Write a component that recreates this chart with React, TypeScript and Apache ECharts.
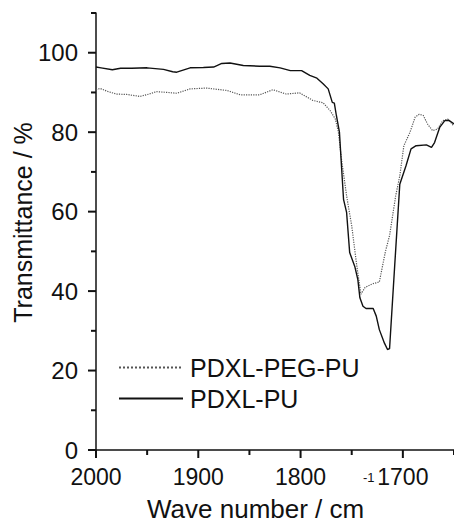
import React, { useEffect, useRef } from "react";
import * as echarts from "echarts";

const seriesNames = ["PDXL-PEG-PU", "PDXL-PU"];

const xMajorTicks = [2000, 1900, 1800, 1700];
const xMinorTicks = [1950, 1850, 1750, 1650];
const yMajorTicks = [0, 20, 40, 60, 80, 100];
const yMinorTicks = [10, 30, 50, 70, 90, 110];

// PDXL-PEG-PU (dotted)
const pegWave = [2000, 1996, 1988, 1980, 1970, 1957, 1948, 1941, 1930, 1921, 1908, 1892, 1872, 1859, 1840, 1827, 1814, 1801, 1788, 1778, 1771, 1766, 1763, 1760, 1755, 1750, 1745, 1741, 1737, 1730, 1723, 1717, 1713, 1707, 1703, 1699, 1693, 1688, 1684, 1680, 1676, 1671, 1666, 1661, 1656, 1651, 1650];
const pegT = [90.7, 91.0, 90.2, 89.6, 89.5, 89.0, 89.6, 90.2, 90.0, 89.8, 90.9, 91.1, 90.5, 89.4, 89.4, 90.7, 89.6, 89.9, 88.0, 87.4, 85.4, 83.3, 80.0, 73.2, 64.0, 56.4, 46.3, 39.2, 40.9, 41.8, 42.3, 50.0, 54.0, 64.0, 69.0, 76.6, 80.0, 83.8, 84.5, 84.2, 82.1, 80.4, 80.8, 82.9, 83.3, 81.8, 81.6];

// PDXL-PU (solid)
const puWave = [2000, 1995, 1984, 1976, 1965, 1950, 1934, 1925, 1921, 1908, 1895, 1885, 1877, 1869, 1856, 1840, 1830, 1820, 1810, 1799, 1791, 1784, 1778, 1773, 1769, 1767, 1765, 1762, 1760, 1758, 1755, 1752, 1747, 1744, 1742, 1739, 1736, 1729, 1726, 1723, 1718, 1715, 1713, 1708, 1703, 1697, 1692, 1687, 1677, 1672, 1669, 1664, 1659, 1655, 1650];
const puT = [96.4, 96.2, 95.7, 96.1, 96.1, 96.2, 95.8, 95.2, 95.1, 96.2, 96.3, 96.4, 97.3, 97.4, 96.8, 96.6, 96.6, 96.2, 95.5, 95.5, 94.3, 93.6, 92.2, 90.9, 87.5, 87.3, 84.2, 80.0, 71.5, 63.1, 59.8, 49.7, 46.2, 42.9, 38.3, 36.2, 35.6, 35.6, 33.7, 30.3, 26.9, 25.3, 25.5, 46.3, 66.9, 71.5, 75.8, 76.6, 76.8, 76.2, 77.4, 81.2, 82.9, 83.0, 82.1];

const FONT = "Liberation Sans, Arial, sans-serif";
const INK = "#111";
const X_MIN = 1650;
const X_MAX = 2000;
const Y_MIN = 0;
const Y_MAX = 110;

export default function App() {
  const ref = useRef<HTMLDivElement>(null);
  useEffect(() => {
    if (!ref.current) return;
    const chart = echarts.init(ref.current, undefined, { renderer: "svg" });
    const pegData = pegWave.map((w, i) => [w, pegT[i]]);
    const puData = puWave.map((w, i) => [w, puT[i]]);
    const plain = (v: number) => String(v);

    // tick marks: [x, y, length, direction(0 = down, 1 = left)]
    const tickData: number[][] = [
      ...xMajorTicks.map((v) => [v, Y_MIN, 8, 0]),
      ...xMinorTicks.map((v) => [v, Y_MIN, 5, 0]),
      ...yMajorTicks.map((v) => [X_MAX, v, 8, 1]),
      ...yMinorTicks.map((v) => [X_MAX, v, 5, 1]),
    ];

    chart.setOption({
      animation: false,
      grid: { left: 96, right: 0, top: 13, bottom: 79 },
      xAxis: {
        type: "value",
        min: X_MIN,
        max: X_MAX,
        interval: 50,
        inverse: true,
        splitLine: { show: false },
        axisLine: { show: true, lineStyle: { color: INK, width: 1.5 } },
        axisTick: { show: false },
        axisLabel: {
          show: true,
          customValues: xMajorTicks,
          formatter: plain,
          margin: 15,
          color: INK,
          fontSize: 23,
          fontFamily: FONT,
        },
      },
      yAxis: {
        type: "value",
        min: Y_MIN,
        max: Y_MAX,
        interval: 10,
        splitLine: { show: false },
        axisLine: { show: true, lineStyle: { color: INK, width: 1.5 } },
        axisTick: { show: false },
        axisLabel: {
          show: true,
          customValues: yMajorTicks,
          formatter: plain,
          margin: 18,
          color: INK,
          fontSize: 24,
          fontFamily: FONT,
        },
      },
      legend: {
        orient: "vertical",
        left: 113,
        top: 350,
        itemWidth: 64,
        itemHeight: 16,
        itemGap: 6,
        itemStyle: { opacity: 0 },
        textStyle: { color: INK, fontSize: 25, fontFamily: FONT, padding: [0, 0, 0, 2] },
        data: seriesNames,
      },
      graphic: [
        {
          type: "text",
          x: 22.5,
          y: 222.5,
          rotation: Math.PI / 2,
          style: {
            text: "Transmittance / %",
            fill: INK,
            fontSize: 25,
            fontFamily: FONT,
            align: "center",
            verticalAlign: "middle",
          },
        },
        {
          type: "text",
          x: 147,
          y: 509,
          style: {
            text: "Wave number / cm",
            fill: INK,
            fontSize: 26,
            fontFamily: FONT,
            align: "left",
            verticalAlign: "middle",
          },
        },
        {
          type: "text",
          x: 363,
          y: 477,
          style: {
            text: "-1",
            fill: INK,
            fontSize: 13,
            fontFamily: FONT,
            align: "left",
            verticalAlign: "middle",
          },
        },
      ],
      series: [
        {
          name: seriesNames[0],
          type: "line",
          data: pegData,
          symbol: "none",
          lineStyle: { color: "#555", width: 1.2, type: "dotted" },
          itemStyle: { color: "#555" },
          z: 2,
        },
        {
          name: seriesNames[1],
          type: "line",
          data: puData,
          symbol: "none",
          lineStyle: { color: INK, width: 1.4, type: "solid" },
          itemStyle: { color: INK },
          z: 3,
        },
        {
          name: "ticks",
          type: "custom",
          silent: true,
          clip: false,
          z: 10,
          data: tickData,
          renderItem: (_params: any, api: any) => {
            const p = api.coord([api.value(0), api.value(1)]);
            const len = api.value(2);
            const dir = api.value(3);
            const shape =
              dir === 0
                ? { x: p[0] - 1, y: p[1], width: 2, height: len }
                : { x: p[0] - len, y: p[1] - 1, width: len, height: 2 };
            return {
              type: "rect",
              shape,
              style: { fill: INK },
            };
          },
        },
      ],
    });
    return () => chart.dispose();
  }, []);
  return (
    <div
      ref={ref}
      style={{ position: "fixed", left: 0, top: 0, width: 454, height: 529, background: "#fff" }}
    />
  );
}
